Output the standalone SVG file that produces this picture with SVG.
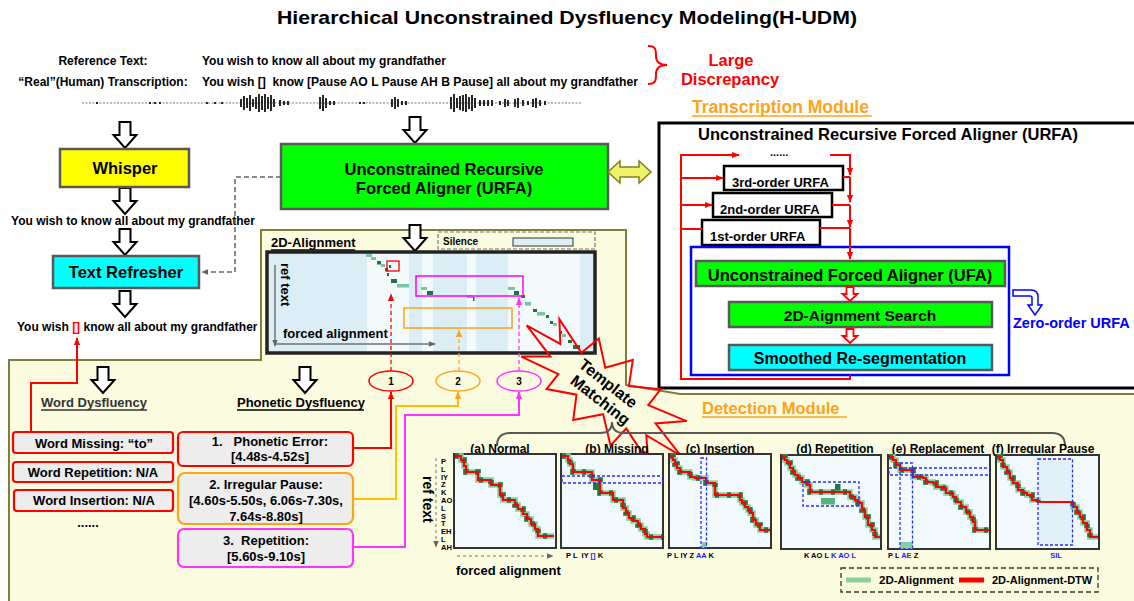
<svg xmlns="http://www.w3.org/2000/svg" width="1134" height="601" viewBox="0 0 1134 601">
<defs>
<style>
text{font-family:"Liberation Sans",Arial,sans-serif;font-weight:bold;fill:#000}
.c{text-anchor:middle}
.box{stroke:#595959;stroke-width:2.5}
.rl{fill:none;stroke:#f00;stroke-width:2}
.ul{fill:none;stroke-width:1.5}
.pbox{fill:#EDEDED;stroke-width:2.2}
.panel{fill:#F3FAFD;stroke:#333;stroke-width:2}
.g1{fill:none;stroke:#86CFA2;stroke-width:5.5}
.g2{fill:none;stroke:#1F7A45;stroke-width:5.5;stroke-dasharray:4 8}
.rd{fill:none;stroke:#f00;stroke-width:2.2}
.bd{fill:none;stroke:#2B2BFF;stroke-width:1.3;stroke-dasharray:3 2}
.lab{font-size:7.5px}
.blue{fill:#2020FF}
</style>
<marker id="ar" viewBox="0 0 10 10" refX="9" refY="5" markerWidth="8" markerHeight="8" markerUnits="userSpaceOnUse" orient="auto"><path d="M0,1 L10,5 L0,9 z" fill="#f00"/></marker>
<marker id="ao" viewBox="0 0 10 10" refX="9" refY="5" markerWidth="8" markerHeight="8" markerUnits="userSpaceOnUse" orient="auto"><path d="M0,1 L10,5 L0,9 z" fill="#FFA31A"/></marker>
<marker id="am" viewBox="0 0 10 10" refX="9" refY="5" markerWidth="8" markerHeight="8" markerUnits="userSpaceOnUse" orient="auto"><path d="M0,1 L10,5 L0,9 z" fill="#FF33FF"/></marker>
<marker id="ag" viewBox="0 0 10 10" refX="9" refY="5" markerWidth="7" markerHeight="7" markerUnits="userSpaceOnUse" orient="auto"><path d="M0,1 L10,5 L0,9 z" fill="#666"/></marker>
<path id="harrow" d="M-5.5,0 H5.5 V13 H11.5 L0,26 L-11.5,13 H-5.5 Z" fill="#fff" stroke="#000" stroke-width="2"/>
<path id="rarrow" d="M-3.5,0 H3.5 V7 H7.5 L0,14 L-7.5,7 H-3.5 Z" fill="#fff" stroke="#f00" stroke-width="1.8"/>
</defs>
<rect width="1134" height="601" fill="#fff"/>

<!-- background regions -->
<path d="M9,603 V360 H261 V230 H626 V385 L680,394 H1138 V603 Z" fill="#FBFBDF" stroke="#7F7F3A" stroke-width="2"/>
<rect x="659" y="123" width="480" height="265" fill="#fff" stroke="#000" stroke-width="3"/>

<text class="c" x="567" y="24" font-size="19" textLength="580" lengthAdjust="spacingAndGlyphs">Hierarchical Unconstrained Dysfluency Modeling(H-UDM)</text>

<g id="input-text">
<text class="c" x="103" y="65" font-size="12">Reference Text:</text>
<text x="202" y="65" font-size="12">You wish to know all about my grandfather</text>
<text class="c" x="103" y="86" font-size="12">“Real”(Human) Transcription:</text>
<text x="202" y="86" font-size="12" textLength="436" lengthAdjust="spacingAndGlyphs" xml:space="preserve">You wish []  know [Pause AO L Pause AH B Pause] all about my grandfather</text>
<path d="M648,46 C656,46 656,50 656,56 C656,62 659,65 667,65 C659,65 656,68 656,74 C656,80 656,84 648,84" fill="none" stroke="#f00" stroke-width="2"/>
<text class="c" x="731" y="66" font-size="16.5" style="fill:#f00">Large</text>
<text class="c" x="730" y="85" font-size="16.5" style="fill:#f00">Discrepancy</text>
</g>

<g id="waveform">
<line x1="82" y1="103" x2="582" y2="103" stroke="#555" stroke-width="0.8" stroke-dasharray="2 1.5"/>
<path stroke="#111" stroke-width="1.8" fill="none" d="M97 102v2 M150 102v2 M155 102v2 M160 102v2 M207 102v2 M215 102v2 M222 102v2 M360 102v2 M364 102v2 M241 99v8 M244 96v14 M247 98v10 M250 95v16 M253 99v8 M256 97v12 M259 94v18 M262 96v14 M265 94v18 M268 97v12 M271 95v16 M274 99v8 M280 100v6 M284 101v4 M288 101v4 M320 97v12 M323 95v16 M326 98v10 M330 101v4 M334 101v4 M392 99v8 M395 97v12 M398 99v8 M402 101v4 M406 101v4 M451 97v12 M454 94v18 M457 98v10 M460 96v14 M463 95v16 M466 94v18 M469 97v12 M472 95v16 M475 98v10 M480 100v6 M484 100v6 M488 100v6 M492 100v6 M500 101v4 M505 99v8 M508 100v6 M515 99v8 M518 98v10 M523 100v6 M528 101v4 M533 99v8 M536 98v10 M540 100v6 M545 101v4"/>
</g>

<g id="hollow-arrows">
<use href="#harrow" x="125" y="122"/>
<use href="#harrow" x="125" y="188"/>
<use href="#harrow" x="125" y="229"/>
<use href="#harrow" x="125" y="291"/>
<use href="#harrow" x="415" y="117"/>
<use href="#harrow" x="415" y="225"/>
<use href="#harrow" x="103" y="367"/>
<use href="#harrow" x="305" y="367"/>
</g>

<g id="whisper">
<rect class="box" x="60" y="149" width="129" height="38" fill="#FFFF00"/>
<text class="c" x="125" y="174" font-size="16.5">Whisper</text>
</g>
<text class="c" x="133" y="225" font-size="12">You wish to know all about my grandfather</text>

<g id="text-refresher">
<rect class="box" x="53" y="256" width="146" height="32" fill="#00FFFF"/>
<text class="c" x="126" y="278" font-size="16.5">Text Refresher</text>
</g>
<text x="17" y="331" font-size="12">You wish <tspan style="fill:#f00">[]</tspan> know all about my grandfather</text>

<g id="urfa">
<rect class="box" x="281" y="144" width="327" height="65" fill="#00FF00"/>
<text class="c" x="444" y="175" font-size="16.5">Unconstrained Recursive</text>
<text class="c" x="444" y="194" font-size="16.5">Forced Aligner (URFA)</text>
</g>

<g id="double-arrow">
<polygon points="608,172 620,161 620,167 639,167 639,161 651,172 639,183 639,177 620,177 620,183" fill="#EEF26A" stroke="#7F7F20" stroke-width="1.5"/>
</g>

<text x="692" y="113" font-size="17.5" style="fill:#FFA31A">Transcription Module</text>
<line class="ul" x1="692" y1="116" x2="872" y2="116" stroke="#FFA31A"/>

<g id="urfa-panel">
<text x="698" y="140" font-size="16.5">Unconstrained Recursive Forced Aligner (URFA)</text>
<text x="770" y="156" font-size="11">......</text>
<g id="third-order"><rect x="724" y="166" width="119" height="24" fill="#fff" stroke="#000" stroke-width="2.5"/><text x="732" y="187" font-size="13">3rd-order URFA</text></g>
<g id="second-order"><rect x="713" y="193" width="119" height="24" fill="#fff" stroke="#000" stroke-width="2.5"/><text x="720" y="214" font-size="13">2nd-order URFA</text></g>
<g id="first-order"><rect x="702" y="220" width="118" height="25" fill="#fff" stroke="#000" stroke-width="2.5"/><text x="710" y="241" font-size="13">1st-order URFA</text></g>
<rect x="691" y="247" width="318" height="128" fill="none" stroke="#0000FF" stroke-width="2.5"/>
<g id="ufa"><rect class="box" x="696" y="261" width="309" height="25" fill="#00FF00"/><text class="c" x="850" y="281" font-size="16.5">Unconstrained Forced Aligner (UFA)</text></g>
<g id="search"><rect class="box" x="729" y="302" width="263" height="25" fill="#00FF00"/><text class="c" x="860" y="321" font-size="15.5">2D-Aignment Search</text></g>
<g id="reseg"><rect class="box" x="729" y="345" width="263" height="25" fill="#00FFFF"/><text class="c" x="860" y="364" font-size="16">Smoothed Re-segmentation</text></g>
<use href="#rarrow" x="850" y="287"/>
<use href="#rarrow" x="850" y="329"/>
<path d="M1013,290 H1031 Q1038,290 1038,297 V305 H1042 L1035,315 L1028,305 H1032 V298 Q1032,296 1030,296 H1013 Z" fill="#fff" stroke="#0000FF" stroke-width="1.5"/>
<text x="1013" y="328" font-size="14.5" style="fill:#0000FF">Zero-order URFA</text>
</g>

<g id="alignment-2d">
<text x="271" y="247" font-size="13">2D-Alignment</text>
<line class="ul" x1="271" y1="250" x2="355" y2="250" stroke="#000"/>
<rect x="438" y="232" width="157" height="17" fill="none" stroke="#777" stroke-width="1.2" stroke-dasharray="4 2"/>
<text x="443" y="245" font-size="10">Silence</text>
<rect x="513" y="238" width="60" height="8" fill="#DDEEF4" stroke="#333" stroke-width="1"/>
<rect x="267" y="252" width="328" height="101" fill="#DCEEF5"/>
<g fill="#F3FAFC">
<rect x="367" y="252" width="42" height="101"/>
<rect x="422" y="252" width="11" height="101"/>
<rect x="467" y="252" width="9" height="101"/>
<rect x="508" y="252" width="72" height="101"/>
</g>
<g fill="#7CC4A0">
<rect x="366" y="254" width="6" height="3"/>
<rect x="371" y="257" width="5" height="3"/>
<rect x="381" y="264" width="4" height="3"/>
<rect x="397" y="284" width="12" height="3.5"/>
<rect x="421" y="287" width="6" height="3"/>
<rect x="467" y="295" width="6" height="3"/>
<rect x="508" y="287" width="7" height="3"/>
<rect x="525" y="302" width="6" height="3.5"/>
<rect x="537" y="312" width="8" height="3.5"/>
<rect x="553" y="323" width="4" height="3"/>
<rect x="562" y="334" width="4" height="3"/>
</g>
<g fill="#1E7244">
<rect x="377" y="261" width="4" height="3.5"/>
<rect x="385" y="268" width="3" height="3.5"/>
<rect x="389" y="265" width="2" height="3"/>
<rect x="387" y="273" width="2" height="3"/>
<rect x="391" y="279" width="6" height="4"/>
<rect x="427" y="291" width="6" height="4"/>
<rect x="473" y="297" width="1.5" height="4"/>
<rect x="514" y="291" width="5" height="4"/>
<rect x="521" y="295" width="4" height="3"/>
<rect x="533" y="309" width="4" height="3"/>
<rect x="546" y="315" width="3" height="3"/>
<rect x="550" y="321" width="3" height="3"/>
<rect x="559" y="331" width="3" height="3"/>
<rect x="568" y="340" width="4" height="3"/>
<rect x="573" y="345" width="7" height="4"/>
</g>
<rect x="267" y="252" width="328" height="101" fill="none" stroke="#222" stroke-width="3.5"/>
<path d="M275,265 V346" stroke="#707070" stroke-width="1.5" marker-end="url(#ag)"/>
<path d="M275,344 H435" stroke="#707070" stroke-width="1.5" marker-end="url(#ag)"/>
<text transform="translate(281,263) rotate(90)" font-size="13">ref text</text>
<text x="283" y="338" font-size="13">forced alignment</text>
<rect x="387" y="261" width="12" height="10" fill="none" stroke="#f00" stroke-width="1.3"/>
<rect x="416" y="276" width="107" height="20" fill="none" stroke="#FF00FF" stroke-width="1.5"/>
<rect x="404" y="308" width="108" height="20" fill="none" stroke="#FFA31A" stroke-width="1.5"/>
</g>

<g id="template-matching" transform="translate(603,390) rotate(38)">
<polygon points="-100,-4 -62,-10 -78,-29 -40,-16 -35,-38 -12,-19 5,-42 18,-19 45,-36 45,-16 85,-27 62,-6 102,4 62,9 80,29 42,16 40,39 15,19 -5,42 -18,20 -45,34 -45,15 -85,24 -62,6" fill="none" stroke="#f00" stroke-width="2"/>
<text class="c" x="0" y="-3" font-size="16">Template</text>
<text class="c" x="4" y="15" font-size="16">Matching</text>
</g>

<g id="ovals">
<g id="oval-1"><ellipse cx="391" cy="381" rx="22" ry="10" fill="#FBFBDF" stroke="#f00" stroke-width="1.5"/><text class="c" x="391" y="385" font-size="10">1</text></g>
<g id="oval-2"><ellipse cx="458" cy="381" rx="22" ry="10" fill="#FBFBDF" stroke="#FFA31A" stroke-width="1.5"/><text class="c" x="458" y="385" font-size="10">2</text></g>
<g id="oval-3"><ellipse cx="519" cy="381" rx="22" ry="10" fill="#FBFBDF" stroke="#FF33FF" stroke-width="1.5"/><text class="c" x="519" y="385" font-size="10">3</text></g>
</g>

<g id="dysfluency-headers">
<text x="41" y="407" font-size="13" style="fill:#333">Word Dysfluency</text>
<line class="ul" x1="41" y1="410" x2="147" y2="410" stroke="#333"/>
<text x="237" y="407" font-size="13">Phonetic Dysfluency</text>
<line class="ul" x1="237" y1="410" x2="364" y2="410" stroke="#000"/>
</g>

<g id="word-missing"><rect class="pbox" x="13" y="432" width="160" height="21" rx="3" stroke="#f00"/><text class="c" x="94" y="447.5" font-size="13">Word Missing: “to”</text></g>
<g id="word-repetition"><rect class="pbox" x="13" y="462" width="160" height="20" rx="3" stroke="#f00"/><text class="c" x="93" y="476.5" font-size="13">Word Repetition: N/A</text></g>
<g id="word-insertion"><rect class="pbox" x="14" y="490" width="159" height="21" rx="3" stroke="#f00"/><text class="c" x="94" y="505" font-size="13">Word Insertion: N/A</text></g>
<text class="c" x="88" y="527" font-size="13">......</text>

<g id="phonetic-error"><rect class="pbox" x="178" y="432" width="175" height="34" rx="5" stroke="#f00"/><text class="c" x="270" y="446" font-size="13" xml:space="preserve">1.   Phonetic Error:</text><text class="c" x="270" y="461" font-size="13">[4.48s-4.52s]</text></g>
<g id="irregular-pause"><rect class="pbox" x="178" y="473" width="175" height="51" rx="7" stroke="#FFA31A"/><text class="c" x="266" y="489" font-size="13">2. Irregular Pause:</text><text class="c" x="266" y="505" font-size="13">[4.60s-5.50s, 6.06s-7.30s,</text><text class="c" x="266" y="521" font-size="13">7.64s-8.80s]</text></g>
<g id="repetition"><rect class="pbox" x="178" y="529" width="175" height="38" rx="6" stroke="#FF33FF"/><text class="c" x="266" y="545" font-size="13" xml:space="preserve">3.  Repetition:</text><text class="c" x="266" y="561" font-size="13">[5.60s-9.10s]</text></g>

<g id="connectors">
<path d="M281,177 H235 V272 H202" fill="none" stroke="#666" stroke-width="1.5" stroke-dasharray="5 3" marker-end="url(#ag)"/>
<path class="rl" d="M31,432 V383 H77 V338" marker-end="url(#ar)"/>
<path class="rl" d="M353,448 H391 V392" marker-end="url(#ar)"/>
<path d="M353,499 H396 V406 H458 V392" fill="none" stroke="#FFC000" stroke-width="2" marker-end="url(#ao)"/>
<path d="M353,547 H405 V415 H519 V392" fill="none" stroke="#FF33FF" stroke-width="2" marker-end="url(#am)"/>
<path d="M391,371 V294" fill="none" stroke="#f00" stroke-width="1.3" stroke-dasharray="4 3" marker-end="url(#ar)"/>
<path d="M459,371 V330" fill="none" stroke="#FFA31A" stroke-width="1.3" stroke-dasharray="4 3" marker-end="url(#ao)"/>
<path d="M519,371 V298" fill="none" stroke="#FF33FF" stroke-width="1.3" stroke-dasharray="4 3" marker-end="url(#am)"/>
<path class="rl" d="M850,375 V379 H681 V155 H739" marker-end="url(#ar)"/>
<path class="rl" d="M830,155 H850 V175" marker-end="url(#ar)"/>
<path class="rl" d="M850,177 V202" marker-end="url(#ar)"/>
<path class="rl" d="M850,205 V227" marker-end="url(#ar)"/>
<path class="rl" d="M850,228 V259" marker-end="url(#ar)"/>
<path class="rl" d="M843,177 H850 M832,205 H850 M820,228 H850"/>
<path class="rl" d="M681,178 H723" marker-end="url(#ar)"/>
<path class="rl" d="M681,205 H712" marker-end="url(#ar)"/>
<path class="rl" d="M681,229 H702"/>
</g>

<text x="702" y="414" font-size="16.5" style="fill:#FFA31A">Detection Module</text>
<line class="ul" x1="702" y1="417" x2="847" y2="417" stroke="#FFA31A"/>

<path d="M497,446 Q497,433 510,433 H600 Q612,433 612,422 Q612,433 624,433 H1052 Q1065,433 1065,446" fill="none" stroke="#595959" stroke-width="2"/>

<g id="detection-axes">
<text transform="translate(423,476) rotate(90)" font-size="14">ref text</text>
<path d="M436,458 V547" stroke="#777" stroke-width="1" stroke-dasharray="3 3" marker-end="url(#ag)"/>
<path d="M457,556 H553" stroke="#777" stroke-width="1" stroke-dasharray="3 3" marker-end="url(#ag)"/>
<text x="456" y="575" font-size="13">forced alignment</text>
<g class="lab">
<text x="441" y="464" class="lab">P</text><text x="441" y="472" class="lab">L</text><text x="441" y="480" class="lab">IY</text><text x="441" y="487" class="lab">Z</text><text x="441" y="495" class="lab">K</text><text x="441" y="503" class="lab">AO</text><text x="441" y="511" class="lab">L</text><text x="441" y="519" class="lab">S</text><text x="441" y="526" class="lab">T</text><text x="441" y="534" class="lab">EH</text><text x="441" y="542" class="lab">L</text><text x="441" y="550" class="lab">AH</text>
</g>
</g>

<g id="panel-a" transform="translate(454,454)">
<text class="c" x="46" y="-1" font-size="12">(a) Normal</text>
<rect class="panel" width="102" height="94"/>
<path class="g1" d="M1,2 H7 V6 H10 V12 H12 V18 H24 V26 H37 V31 H46 V41 H49 V46 H61 V51 H64 V55 H69 V60 H73 V65 H77 V70 H81 V75 H84 V82 H100"/>
<path class="g2" d="M1,2 H7 V6 H10 V12 H12 V18 H24 V26 H37 V31 H46 V41 H49 V46 H61 V51 H64 V55 H69 V60 H73 V65 H77 V70 H81 V75 H84 V82 H100"/>
<path class="rd" d="M1,2 H7 V6 H10 V12 H12 V18 H24 V26 H37 V31 H46 V41 H49 V46 H61 V51 H64 V55 H69 V60 H73 V65 H77 V70 H81 V75 H84 V82 H100"/>
</g>

<g id="panel-b" transform="translate(561,454)">
<text class="c" x="56" y="-1" font-size="12">(b) Missing</text>
<rect class="panel" width="102" height="94"/>
<path class="g1" d="M1,2 H7 V6 H9 V10 H12 V18 H31 V26 H39 V39 H52 V46 H62 V54 H65 V59 H68 V64 H72 V67 H77 V71 H80 V75 H84 V80 H86 V83 H101"/>
<path class="g2" d="M1,2 H7 V6 H9 V10 H12 V18 H31 V26 H39 V39 H52 V46 H62 V54 H65 V59 H68 V64 H72 V67 H77 V71 H80 V75 H84 V80 H86 V83 H101"/>
<rect x="32" y="29" width="6.5" height="7" fill="#1F7A45"/>
<path class="rd" d="M1,2 H7 V6 H9 V10 H12 V18 H31 V26 H39 V39 H52 V46 H62 V54 H65 V59 H68 V64 H72 V67 H77 V71 H80 V75 H84 V80 H86 V83 H101"/>
<rect class="bd" x="1" y="22" width="101" height="7"/>
<text x="5" y="104" class="lab" xml:space="preserve">P L  IY <tspan class="blue">[]</tspan> K</text>
</g>

<g id="panel-c" transform="translate(669,454)">
<text class="c" x="51" y="-1" font-size="12">(c) Insertion</text>
<rect class="panel" width="102" height="94"/>
<rect x="32.5" y="88" width="5" height="6" fill="#86CFA2"/>
<path class="g1" d="M1,2 H4 V6 H6 V10 H8 V14 H11 V18 H21 V23 H26 V24 H37 V29 H46 V41 H71 V46 H73 V49 H76 V53 H79 V56 H81 V59 H84 V66 H87 V71 H91 V76 H101"/>
<path class="g2" d="M1,2 H4 V6 H6 V10 H8 V14 H11 V18 H21 V23 H26 V24 H37 V29 H46 V41 H71 V46 H73 V49 H76 V53 H79 V56 H81 V59 H84 V66 H87 V71 H91 V76 H101"/>
<path class="rd" d="M1,2 H4 V6 H6 V10 H8 V14 H11 V18 H21 V23 H26 V24 H37 V29 H46 V41 H71 V46 H73 V49 H76 V53 H79 V56 H81 V59 H84 V66 H87 V71 H91 V76 H101"/>
<rect class="bd" x="32" y="4" width="5.5" height="90"/>
<text x="-2" y="104" class="lab">P L IY Z <tspan class="blue">AA</tspan> K</text>
</g>

<g id="panel-d" transform="translate(781,455)">
<text class="c" x="54" y="-2" font-size="12">(d) Repetition</text>
<rect class="panel" width="100" height="94"/>
<rect x="40" y="43" width="14" height="6.5" fill="#55B57F"/>
<path class="g1" d="M1,2 H4 V5 H6 V8 H9 V13 H12 V17 H14 V20 H17 V23 H21 V27 H26 V30 H29 V37 H69 V42 H74 V45 H77 V48 H81 V55 H84 V62 H87 V70 H91 V75 H94 V82 H99"/>
<path class="g2" d="M1,2 H4 V5 H6 V8 H9 V13 H12 V17 H14 V20 H17 V23 H21 V27 H26 V30 H29 V37 H69 V42 H74 V45 H77 V48 H81 V55 H84 V62 H87 V70 H91 V75 H94 V82 H99"/>
<rect x="54" y="29" width="5.5" height="6.5" fill="#1F7A45"/>
<path class="rd" d="M1,2 H4 V5 H6 V8 H9 V13 H12 V17 H14 V20 H17 V23 H21 V27 H26 V30 H29 V37 H69 V42 H74 V45 H77 V48 H81 V55 H84 V62 H87 V70 H91 V75 H94 V82 H99"/>
<rect class="bd" x="22" y="27" width="56" height="24"/>
<text class="c lab" x="49" y="103">K AO L <tspan class="blue">K AO L</tspan></text>
</g>

<g id="panel-e" transform="translate(888,455)">
<text class="c" x="50" y="-2" font-size="12">(e) Replacement</text>
<rect class="panel" width="102" height="94"/>
<rect x="12" y="87" width="12.5" height="7" fill="#86CFA2"/>
<path class="g1" d="M1,2 H5 V5 H8 V10 H12 V15 H25 V22 H35 V23 H38 V27 H45 V28 H48 V32 H55 V33 H58 V38 H65 V42 H68 V47 H73 V52 H78 V57 H82 V62 H85 V67 H87 V75 H101"/>
<path class="g2" d="M1,2 H5 V5 H8 V10 H12 V15 H25 V22 H35 V23 H38 V27 H45 V28 H48 V32 H55 V33 H58 V38 H65 V42 H68 V47 H73 V52 H78 V57 H82 V62 H85 V67 H87 V75 H101"/>
<path class="rd" d="M1,2 H5 V5 H8 V10 H12 V15 H25 V22 H35 V23 H38 V27 H45 V28 H48 V32 H55 V33 H58 V38 H65 V42 H68 V47 H73 V52 H78 V57 H82 V62 H85 V67 H87 V75 H101"/>
<rect class="bd" x="1" y="13" width="101" height="7"/>
<rect class="bd" x="12" y="8" width="12.5" height="86"/>
<text x="0" y="103" class="lab">P L <tspan class="blue">AE</tspan> Z</text>
</g>

<g id="panel-f" transform="translate(996,455)">
<text class="c" x="47" y="-2" font-size="12">(f) Irregular Pause</text>
<rect class="panel" width="103" height="94"/>
<rect x="42" y="4" width="34.5" height="86" fill="#E4F0F7"/>
<path class="g1" d="M1,2 H4 V5 H7 V12 H11 V17 H14 V23 H17 V28 H22 V35 H27 V38 H31 V40 H36 V45 H42 V47 M77,47 V52 H81 V57 H84 V62 H87 V68 H91 V75 H94 V82 H102"/>
<path class="g2" d="M1,2 H4 V5 H7 V12 H11 V17 H14 V23 H17 V28 H22 V35 H27 V38 H31 V40 H36 V45 H42 V47 M77,47 V52 H81 V57 H84 V62 H87 V68 H91 V75 H94 V82 H102"/>
<path class="rd" d="M1,2 H4 V5 H7 V12 H11 V17 H14 V23 H17 V28 H22 V35 H27 V38 H31 V40 H36 V45 H42 V47 H77 V52 H81 V57 H84 V62 H87 V68 H91 V75 H94 V82 H102"/>
<rect class="bd" x="42" y="4" width="34.5" height="86"/>
<text class="c lab blue" x="60" y="103">SIL</text>
</g>

<g id="legend">
<rect x="841" y="568" width="257" height="24" fill="none" stroke="#333" stroke-width="1.3" stroke-dasharray="5 3"/>
<line x1="846" y1="580" x2="871" y2="580" stroke="#8FD19E" stroke-width="5"/>
<text x="879" y="584" font-size="11.5">2D-Alignment</text>
<line x1="959" y1="580" x2="984" y2="580" stroke="#f00" stroke-width="5"/>
<text x="992" y="584" font-size="11">2D-Alignment-DTW</text>
</g>
</svg>
